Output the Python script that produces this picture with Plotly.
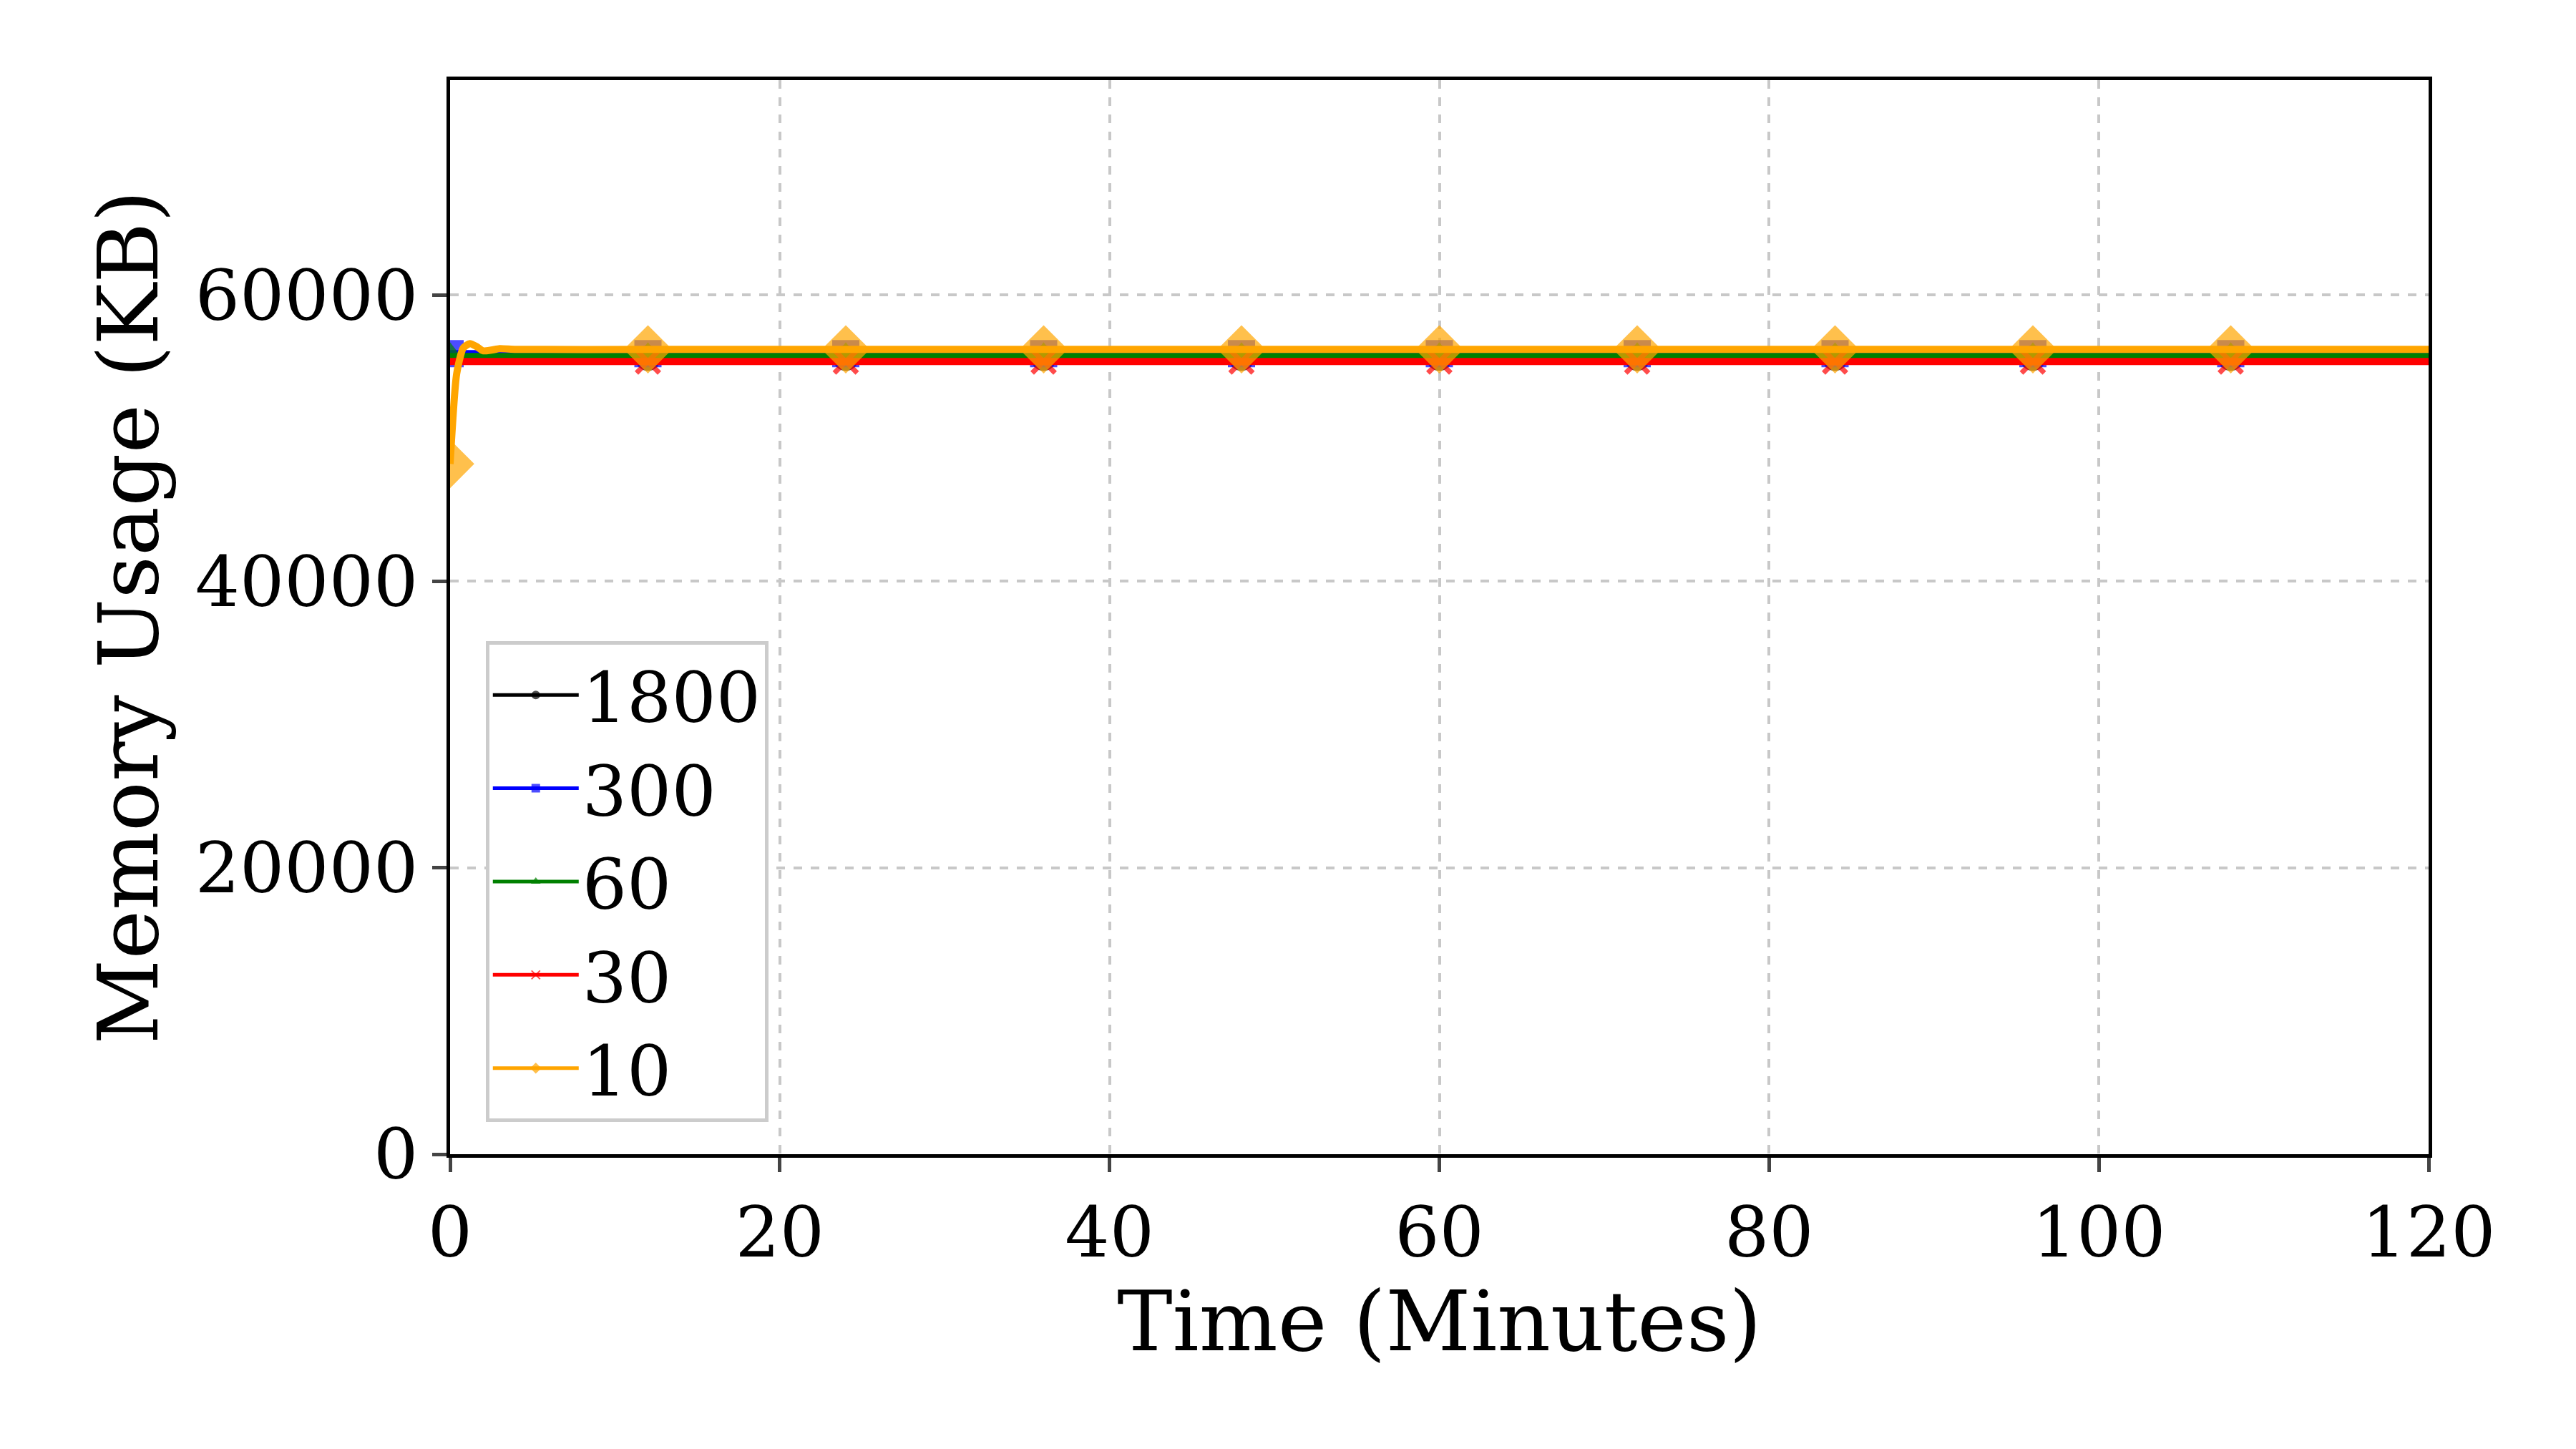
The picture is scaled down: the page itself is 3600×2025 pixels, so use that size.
import plotly.graph_objects as go

mark_x = [0, 12, 24, 36, 48, 60, 72, 84, 96, 108, 120]
names = ["1800", "300", "60", "30", "10"]
colors = ["black", "blue", "green", "red", "orange"]
symbols = ["circle", "square", "triangle-up", "x-thin", "diamond"]
y_1800 = [55600] * 11
y_300 = [55900] * 11
y_60 = [55700] * 11
y_30 = [55350] * 11
# orange has early transient
x_10 = [0, 0.4, 0.8, 1.2, 1.6, 2.0, 2.5, 3.0, 4.0, 12, 24, 36, 48, 60, 72, 84, 96, 108, 120]
y_10 = [48200, 54500, 56300, 56600, 56400, 56100, 56150, 56250, 56200, 56200, 56200, 56200, 56200, 56200, 56200, 56200, 56200, 56200, 56200]
marked_10 = [0, 12, 24, 36, 48, 60, 72, 84, 96, 108]

fig = go.Figure()
series = [(mark_x, y_1800), (mark_x, y_300), (mark_x, y_60), (mark_x, y_30), (x_10, y_10)]
sizes = [36, 38, 40, 32, 52]
for (xs, ys), n, c, s, sz in zip(series, names, colors, symbols, sizes):
    msize = [sz if (x in marked_10 and (x != 0 or n in ("300", "60", "10"))) else 0 for x in xs]
    fig.add_trace(go.Scatter(
        x=xs, y=ys, name=n, mode="lines+markers",
        line=dict(color=c, width=10, shape="spline", smoothing=0.6),
        marker=dict(symbol=s, size=msize, color=c, line=dict(color=c, width=7 if s == "x-thin" else 0)),
    ))

font = "DejaVu Serif"
fig.update_layout(
    width=3600, height=2025, paper_bgcolor="white", plot_bgcolor="white",
    margin=dict(l=621, r=214, t=104, b=420),
    font=dict(family=font, size=98, color="black"),
    showlegend=True,
    legend=dict(x=0.018, y=0.03, xanchor="left", yanchor="bottom",
                bordercolor="#cccccc", borderwidth=5, bgcolor="white",
                font=dict(size=98), itemwidth=120, itemsizing="constant"),
    xaxis=dict(range=[0, 120], tickvals=[0, 20, 40, 60, 80, 100, 120],
               title=dict(text="Time (Minutes)", font=dict(size=116)),
               showline=True, linecolor="black", linewidth=5, mirror=True,
               ticks="outside", ticklen=20, tickwidth=5,
               showgrid=True, gridcolor="#c8c8c8", griddash="dash", gridwidth=4, zeroline=False),
    yaxis=dict(range=[0, 75000], tickvals=[0, 20000, 40000, 60000], tickformat="d",
               title=dict(text="Memory Usage (KB)", font=dict(size=116)),
               showline=True, linecolor="black", linewidth=5, mirror=True,
               ticks="outside", ticklen=20, tickwidth=5,
               showgrid=True, gridcolor="#c8c8c8", griddash="dash", gridwidth=4, zeroline=False),
)
fig.write_html("out.html")
